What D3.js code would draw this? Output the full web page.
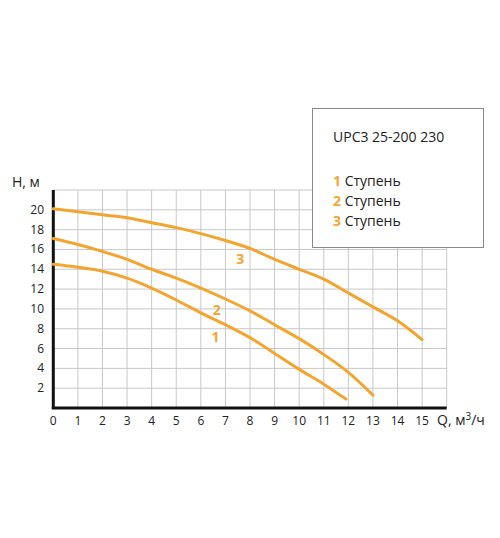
<!DOCTYPE html>
<html><head><meta charset="utf-8">
<script src="https://cdn.jsdelivr.net/npm/d3@7"></script>
<style>body{margin:0;background:#fff}text{font-family:"Open Sans",sans-serif}</style>
</head><body><div id="chart"></div>
<script>
const xTicks = d3.range(0, 16)
const yTicks = [2, 4, 6, 8, 10, 12, 14, 16, 18, 20]
const stage1 = [[0,14.5],[1,14.2],[2,13.8],[3,13.1],[4,12.1],[5,10.9],[6,9.6],[7,8.4],[8,7.1],[9,5.5],[10,3.9],[11,2.4],[11.9,0.9]]
const stage2 = [[0,17.1],[1,16.5],[2,15.8],[3,15],[4,14],[5,13.1],[6,12.1],[7,11],[8,9.8],[9,8.4],[10,7],[11,5.4],[12,3.6],[13,1.3]]
const stage3 = [[0,20.1],[1,19.8],[2,19.5],[3,19.2],[4,18.7],[5,18.2],[6,17.6],[7,16.9],[8,16.1],[9,15],[10,14],[11,13],[12,11.6],[13,10.2],[14,8.8],[15,6.9]]
const curveLabels = [["1",6.6,7.2],["2",6.65,9.9],["3",7.6,15.0]]
const legendItems = ["1", "2", "3"]
const orange = "#f2a631"

const svg = d3.select("#chart").append("svg").attr("width", 500).attr("height", 538)

const x = d3.scaleLinear().domain([0, 16]).range([53.3, 446.7])
const y = d3.scaleLinear().domain([0, 22]).range([408, 190])

// grid
svg.append("g").selectAll("line").data(d3.range(1, 17)).enter().append("line")
    .attr("x1", d => x(d)).attr("x2", d => x(d)).attr("y1", y(0)).attr("y2", y(22))
    .attr("stroke", "#c8c8c8").attr("stroke-width", 1)
svg.append("g").selectAll("line").data(yTicks.concat([22])).enter().append("line")
    .attr("x1", x(0)).attr("x2", x(16)).attr("y1", d => y(d)).attr("y2", d => y(d))
    .attr("stroke", "#c8c8c8").attr("stroke-width", 1)

// axes
svg.append("line").attr("x1", x(0)).attr("x2", x(0)).attr("y1", y(0) + 1).attr("y2", y(22))
    .attr("stroke", "#111").attr("stroke-width", 3)
svg.append("line").attr("x1", x(0) - 1.5).attr("x2", x(16)).attr("y1", y(0)).attr("y2", y(0))
    .attr("stroke", "#111").attr("stroke-width", 3)

svg.append("g").selectAll("text").data(xTicks).enter().append("text")
    .attr("x", d => x(d)).attr("y", 425).attr("text-anchor", "middle")
    .attr("font-size", 12).attr("fill", "#222").text(d => d)
svg.append("g").selectAll("text").data(yTicks).enter().append("text")
    .attr("x", 44).attr("y", d => y(d) + 4).attr("text-anchor", "end")
    .attr("font-size", 12).attr("fill", "#222").text(d => d)

svg.append("text").attr("x", 12).attr("y", 187).attr("font-size", 14).attr("fill", "#222").text("H, м")
svg.append("text").attr("x", 437).attr("y", 425).attr("font-size", 14).attr("fill", "#222")
    .html('Q, м<tspan dy="-5" font-size="10">3</tspan><tspan dy="5">/ч</tspan>')

// curves
const line = d3.line().x(d => x(d[0])).y(d => y(d[1])).curve(d3.curveMonotoneX)
;[stage1, stage2, stage3].forEach(s => {
    svg.append("path").datum(s).attr("d", line).attr("fill", "none")
        .attr("stroke", orange).attr("stroke-width", 3).attr("stroke-linecap", "round")
})
svg.append("g").selectAll("text").data(curveLabels).enter().append("text")
    .attr("x", d => x(d[1])).attr("y", d => y(d[2]) + 5).attr("text-anchor", "middle")
    .attr("font-size", 14).attr("font-weight", "bold").attr("fill", orange).text(d => d[0])

// legend box
const lg = svg.append("g")
lg.append("rect").attr("x", 312.5).attr("y", 108.5).attr("width", 171).attr("height", 139)
    .attr("fill", "#fff").attr("stroke", "#888").attr("stroke-width", 1)
lg.append("text").attr("x", 333).attr("y", 142).attr("font-size", 14).attr("fill", "#222").text("UPC3 25-200 230")
legendItems.forEach((k, i) => {
    const t = lg.append("text").attr("x", 333).attr("y", 186 + i * 20).attr("font-size", 14).attr("fill", "#222")
    t.append("tspan").attr("fill", orange).attr("font-weight", "bold").text(k)
    t.append("tspan").text(" Ступень")
})
</script></body></html>
